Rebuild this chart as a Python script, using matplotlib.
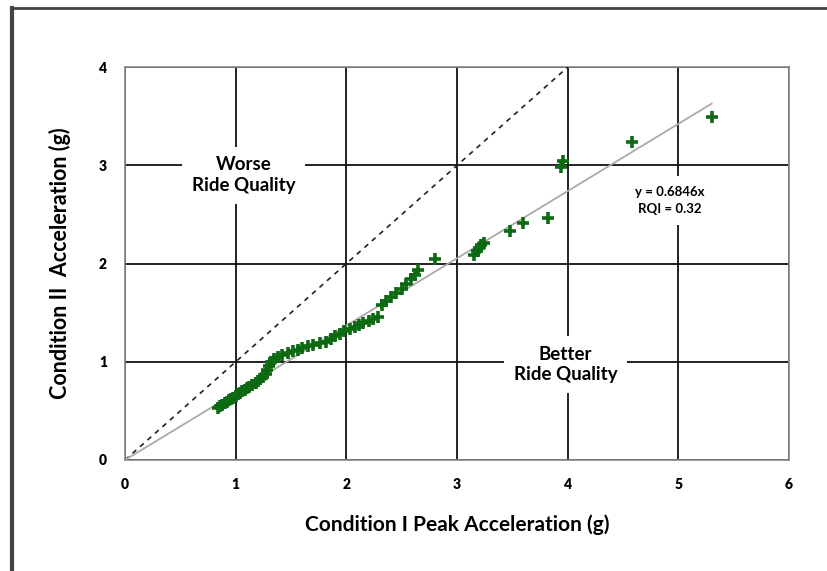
import numpy as np
import matplotlib
matplotlib.use("Agg")
import matplotlib.pyplot as plt
from matplotlib.lines import Line2D

plt.rcParams['font.family'] = ['Lato', 'DejaVu Sans']

# peak accelerations, condition I vs condition II (g)
peak_cond1 = [0.84, 0.86, 0.88, 0.90, 0.92, 0.94, 0.96, 0.98, 1.00, 1.02,
              1.04, 1.06, 1.08, 1.10, 1.12, 1.15, 1.18, 1.20, 1.22, 1.25,
              1.27, 1.28, 1.30, 1.32, 1.35, 1.38, 1.42, 1.47, 1.52, 1.56,
              1.60, 1.65, 1.70, 1.76, 1.82, 1.86, 1.90, 1.94, 1.98, 2.03,
              2.08, 2.11, 2.15, 2.20, 2.24, 2.29, 2.32, 2.36, 2.40, 2.45,
              2.50, 2.54, 2.58, 2.62, 2.65, 2.80, 3.15, 3.18, 3.20, 3.22,
              3.24, 3.48, 3.60, 3.82, 3.94, 3.96, 4.58, 5.30]
peak_cond2 = [0.53, 0.55, 0.56, 0.58, 0.59, 0.61, 0.62, 0.63, 0.65, 0.67,
              0.68, 0.70, 0.71, 0.73, 0.74, 0.76, 0.78, 0.80, 0.82, 0.85,
              0.88, 0.92, 0.96, 1.00, 1.03, 1.05, 1.07, 1.09, 1.11, 1.12,
              1.14, 1.16, 1.17, 1.19, 1.20, 1.23, 1.26, 1.28, 1.31, 1.33,
              1.35, 1.37, 1.40, 1.42, 1.44, 1.46, 1.58, 1.62, 1.66, 1.70,
              1.74, 1.79, 1.84, 1.88, 1.93, 2.05, 2.09, 2.13, 2.16, 2.19,
              2.21, 2.33, 2.41, 2.46, 2.98, 3.04, 3.24, 3.49]

slope = 0.6846
rqi = 0.32
fit_x = [0, 5.3]
equal_x = [0, 4]

fig = plt.figure(figsize=(8.28, 5.71), dpi=100)
ax = fig.add_axes([0.151, 0.1944, 0.802, 0.688])

ax.plot(equal_x, equal_x, color='#222222', lw=1.2, ls=(0, (3, 3)), zorder=3)
ax.plot(fit_x, [slope * v for v in fit_x], color='#aaaaaa', lw=1.3, zorder=3)
ax.plot(peak_cond1, peak_cond2, ls='none', marker='+', ms=9, mew=2.6,
        color='#0e6a12', zorder=4)

ax.set_xlim(0, 6)
ax.set_ylim(0, 4)
ax.set_xticks(range(0, 7))
ax.set_yticks(range(0, 5))
ax.grid(True, color='#111111', lw=1.3)
ax.set_axisbelow(True)
ax.tick_params(length=0, pad=13, labelsize=10)
for lab in ax.get_xticklabels() + ax.get_yticklabels():
    lab.set_fontweight('heavy')
for s in ax.spines.values():
    s.set_color('#888888')
    s.set_linewidth(1.2)

ax.set_xlabel('Condition I Peak Acceleration (g)', fontsize=15,
              fontweight='bold', labelpad=17)
ax.set_ylabel('Condition II  Acceleration (g)', fontsize=15.5,
              fontweight='bold', labelpad=20)

box = dict(facecolor='white', edgecolor='none', pad=7)
ax.text(1.07, 2.90, 'Worse\nRide Quality', ha='center', va='center',
        fontsize=13.5, fontweight='bold', linespacing=1.25, bbox=box, zorder=5)
ax.text(3.98, 0.97, 'Better\nRide Quality', ha='center', va='center',
        fontsize=13.5, fontweight='bold', linespacing=1.25, bbox=box, zorder=5)
ax.text(4.92, 2.64, f'y = {slope}x\nRQI = {rqi}', ha='center', va='center',
        fontsize=9.5, fontweight='bold', linespacing=1.5, bbox=box, zorder=5)

# outer frame of the figure
fig.add_artist(Line2D([0.015, 0.015], [0, 0.986], color='#444444', lw=3))
fig.add_artist(Line2D([0.013, 1.0], [0.986, 0.986], color='#444444', lw=2))

fig.savefig('out.png', dpi=100)
